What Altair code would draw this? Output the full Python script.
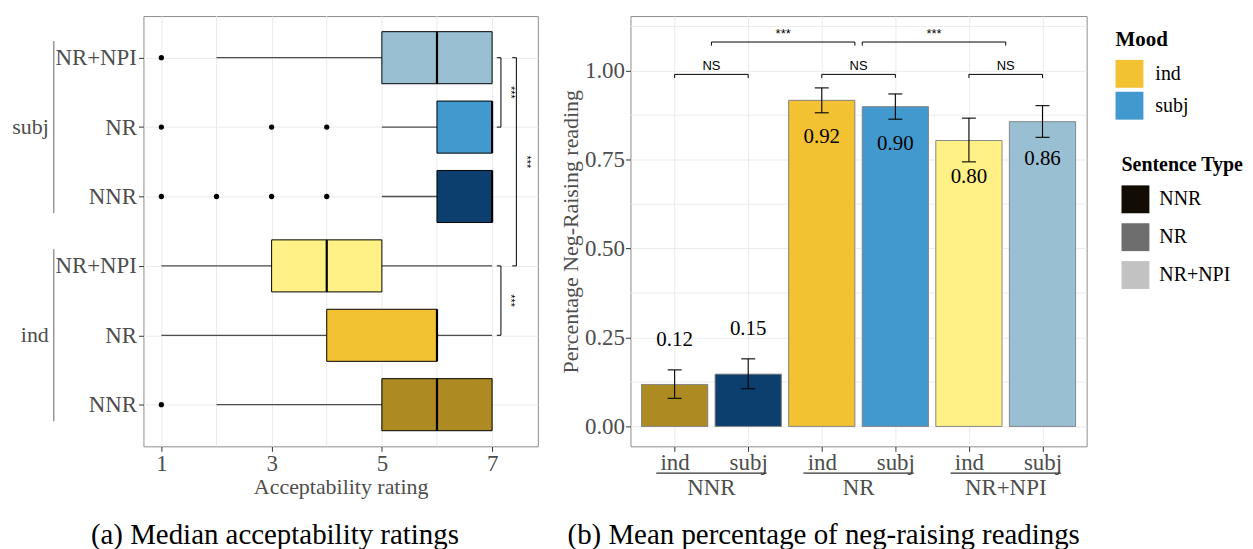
import json
import altair as alt
import pandas as pd

SERIF = "Liberation Serif"
SANS = "Liberation Sans"
GREY_TXT = "#4d4d4d"

# ---------------- panel (a): acceptability box plots ----------------
box_mood = ["ind", "ind", "ind", "subj", "subj", "subj"]
box_type = ["NNR", "NR", "NR+NPI", "NNR", "NR", "NR+NPI"]
box_row = [1, 2, 3, 4, 5, 6]
box_lower = [2, 1, 1, 5, 5, 2]
box_q1 = [5, 4, 3, 6, 6, 5]
box_median = [6, 6, 4, 7, 7, 6]
box_q3 = [7, 6, 5, 7, 7, 7]
box_upper = [7, 7, 7, 7, 7, 7]
box_colors = ["#ad8a22", "#f2c232", "#fff185", "#0c3f6e", "#4299ce", "#98bfd2"]

out_row = [1, 4, 4, 4, 4, 5, 5, 5, 6]
out_value = [1, 1, 2, 3, 4, 1, 3, 4, 1]

grp_a_name = ["ind", "subj"]
grp_a_first = [1, 4]
grp_a_last = [3, 6]

lb_top = [6, 6, 3]
lb_bottom = [5, 3, 2]
lb_x = [7.16, 7.44, 7.16]
lb_text_x = [7.33, 7.62, 7.33]
lb_label = ["***", "***", "***"]

x_ticks_a = [1, 3, 5, 7]
x_minor_a = [2, 4, 6]
caption_a = ["(a) Median acceptability ratings"]

# ---------------- panel (b): neg-raising bars ----------------
bar_type = ["NNR", "NNR", "NR", "NR", "NR+NPI", "NR+NPI"]
bar_mood = ["ind", "subj", "ind", "subj", "ind", "subj"]
bar_mean = [0.118, 0.147, 0.917, 0.899, 0.804, 0.857]
bar_lo = [0.079, 0.106, 0.882, 0.864, 0.744, 0.813]
bar_hi = [0.159, 0.190, 0.952, 0.935, 0.867, 0.902]
bar_label = ["0.12", "0.15", "0.92", "0.90", "0.80", "0.86"]
bar_colors = ["#ad8a22", "#0c3f6e", "#f2c232", "#4299ce", "#fff185", "#98bfd2"]

mood_names = ["ind", "subj"]
mood_colors = ["#f2c232", "#4299ce"]
type_names = ["NNR", "NR", "NR+NPI"]
type_colors = ["#120c04", "#6e6e6e", "#c2c2c2"]

grp_b_center = [1.5, 3.5, 5.5]

rb_x1 = [1, 3, 5, 1.5, 3.55]
rb_x2 = [2, 4, 6, 3.45, 5.5]
rb_y = [0.99, 0.99, 0.99, 1.081, 1.081]
rb_label = ["NS", "NS", "NS", "***", "***"]

y_ticks_b = [0, 0.25, 0.5, 0.75, 1.0]
y_minor_b = [0.125, 0.375, 0.625, 0.875, 1.125]
caption_b = ["(b) Mean percentage of neg-raising readings"]

# ---------------- frames ----------------
df_box = pd.DataFrame({
    "mood": box_mood, "stype": box_type, "row": box_row,
    "lower": box_lower, "q1": box_q1, "median": box_median,
    "q3": box_q3, "upper": box_upper,
})
df_box["key"] = df_box["mood"] + "|" + df_box["stype"]
df_out = pd.DataFrame({"row": out_row, "value": out_value})
df_grp_a = pd.DataFrame({"name": grp_a_name, "first": grp_a_first, "last": grp_a_last})
df_lb = pd.DataFrame({"top": lb_top, "bottom": lb_bottom, "bx": lb_x, "tx": lb_text_x, "label": lb_label})

df_bar = pd.DataFrame({
    "stype": bar_type, "mood": bar_mood, "mean": bar_mean,
    "lo": bar_lo, "hi": bar_hi, "label": bar_label,
})
df_bar["pos"] = range(1, len(df_bar) + 1)
df_bar["key"] = df_bar["stype"] + "|" + df_bar["mood"]
df_grp_b = pd.DataFrame({"name": type_names, "center": grp_b_center})
df_rb = pd.DataFrame({"x1": rb_x1, "x2": rb_x2, "y": rb_y, "label": rb_label})

# ---------------- panel (a) chart ----------------
W_A, H = 396, 432
xs_a = alt.Scale(domain=[0.675, 7.83], nice=False, zero=False)
ys_a = alt.Scale(domain=[0.4, 6.6], nice=False, zero=False)
x_axis_a = alt.Axis(values=x_ticks_a, title="Acceptability rating", grid=True,
                    labelPadding=1, titlePadding=1)
y_axis_a = alt.Axis(values=box_row, title=None, grid=True, labelPadding=2,
                    labelExpr=json.dumps(box_type) + "[datum.value - 1]")


def XA(f):
    return alt.X(f, type="quantitative", scale=xs_a, axis=x_axis_a)


def YA(f):
    return alt.Y(f, type="quantitative", scale=ys_a, axis=y_axis_a)


minor_a = alt.Chart(pd.DataFrame({"v": x_minor_a})).mark_rule(
    color="#ebebeb", strokeWidth=1).encode(x=XA("v"))

base_box = alt.Chart(df_box).transform_calculate(
    ylo="datum.row - 0.375", yhi="datum.row + 0.375")

whisk = base_box.mark_rule(color="#4d4d4d", strokeWidth=1.3).encode(
    x=XA("lower"), x2="upper", y=YA("row"))
boxes = base_box.mark_rect(stroke="black", strokeWidth=1).encode(
    x=XA("q1"), x2="q3", y=YA("ylo"), y2="yhi",
    color=alt.Color("key:N", scale=alt.Scale(domain=list(df_box["key"]), range=box_colors),
                    legend=None))
medians = base_box.mark_rule(color="black", strokeWidth=2.2).encode(
    x=XA("median"), y=YA("ylo"), y2="yhi")
outliers = alt.Chart(df_out).mark_circle(color="black", size=28, opacity=1).encode(
    x=XA("value"), y=YA("row"))

lb_base = alt.Chart(df_lb).transform_calculate(
    bx0="datum.bx - 0.075", mid="(datum.top + datum.bottom) / 2")
lb_v = lb_base.mark_rule(color="black", strokeWidth=1).encode(
    x=XA("bx"), y=YA("top"), y2="bottom")
lb_t1 = lb_base.mark_rule(color="black", strokeWidth=1).encode(
    x=XA("bx0"), x2="bx", y=YA("top"))
lb_t2 = lb_base.mark_rule(color="black", strokeWidth=1).encode(
    x=XA("bx0"), x2="bx", y=YA("bottom"))
lb_txt = lb_base.mark_text(angle=90, font=SANS, fontSize=11, color="black",
                           baseline="middle").encode(
    x=XA("tx"), y=YA("mid"), text="label")

grp_a_base = alt.Chart(df_grp_a).transform_calculate(
    mid="(datum.first + datum.last) / 2",
    g0="datum.first - 0.24", g1="datum.last + 0.24")
grp_a_txt = grp_a_base.mark_text(font=SERIF, fontSize=22, color=GREY_TXT,
                                 align="right", baseline="middle").encode(
    x=alt.value(-95), y=YA("mid"), text="name")
grp_a_line = grp_a_base.mark_rule(color="#666666", strokeWidth=1).encode(
    x=alt.value(-90), y=YA("g0"), y2="g1")

cap_a = alt.Chart(pd.DataFrame({"t": caption_a})).mark_text(
    font=SERIF, fontSize=29, color="black", align="center", baseline="alphabetic").encode(
    x=alt.value(132), y=alt.value(530), text="t")

left = alt.layer(minor_a, whisk, boxes, medians, outliers,
                 lb_v, lb_t1, lb_t2, lb_txt, grp_a_txt, grp_a_line, cap_a
                 ).properties(width=W_A, height=H)

# ---------------- panel (b) chart ----------------
W_B = 458
xs_b = alt.Scale(domain=[0.4, 6.6], nice=False, zero=False)
ys_b = alt.Scale(domain=[-0.056, 1.154], nice=False, zero=False)
x_axis_b = alt.Axis(values=list(df_bar["pos"]), title=None, grid=True, labelPadding=0,
                    labelExpr=json.dumps(bar_mood) + "[datum.value - 1]")
y_axis_b = alt.Axis(values=y_ticks_b, format=".2f", title="Percentage Neg-Raising reading",
                    grid=True, labelPadding=1, titlePadding=2)


def XB(f):
    return alt.X(f, type="quantitative", scale=xs_b, axis=x_axis_b)


def YB(f):
    return alt.Y(f, type="quantitative", scale=ys_b, axis=y_axis_b)


minor_b = alt.Chart(pd.DataFrame({"v": y_minor_b})).mark_rule(
    color="#ebebeb", strokeWidth=1).encode(y=YB("v"))

bar_base = alt.Chart(df_bar).transform_calculate(
    x0="datum.pos - 0.45", x1="datum.pos + 0.45", zero="0",
    c0="datum.pos - 0.095", c1="datum.pos + 0.095")

legend_common = dict(orient="none", symbolType="square", symbolSize=784,
                     titleFont=SERIF, titleFontWeight="bold", titleColor="black",
                     labelFont=SERIF, labelFontSize=20, labelColor="black",
                     padding=0, symbolStrokeWidth=0)

bars_mood = bar_base.mark_rect().encode(
    x=XB("x0"), x2="x1", y=YB("zero:Q"), y2="mean",
    color=alt.Color("mood:N", scale=alt.Scale(domain=mood_names, range=mood_colors),
                    legend=alt.Legend(title="Mood", legendX=487, legendY=13,
                                      titleFontSize=21, titlePadding=10, rowPadding=4,
                                      labelOffset=12, **legend_common)))
bars_type = bar_base.mark_rect().encode(
    x=XB("x0"), x2="x1", y=YB("zero:Q"), y2="mean",
    color=alt.Color("stype:N", scale=alt.Scale(domain=type_names, range=type_colors),
                    legend=alt.Legend(title="Sentence Type", legendX=493, legendY=140,
                                      titleFontSize=20, titlePadding=10, rowPadding=10,
                                      labelOffset=10, **legend_common)))
bars_main = bar_base.mark_rect(stroke="#8a8a8a", strokeWidth=1).encode(
    x=XB("x0"), x2="x1", y=YB("zero:Q"), y2="mean",
    color=alt.Color("key:N", scale=alt.Scale(domain=list(df_bar["key"]), range=bar_colors),
                    legend=None))

err_v = bar_base.mark_rule(color="black", strokeWidth=1.1).encode(
    x=XB("pos"), y=YB("lo"), y2="hi")
err_lo = bar_base.mark_rule(color="black", strokeWidth=1.1).encode(
    x=XB("c0"), x2="c1", y=YB("lo"))
err_hi = bar_base.mark_rule(color="black", strokeWidth=1.1).encode(
    x=XB("c0"), x2="c1", y=YB("hi"))

lab_hi = bar_base.transform_filter("datum.mean > 0.5").mark_text(
    font=SERIF, fontSize=21, color="black", baseline="middle", dy=37).encode(
    x=XB("pos"), y=YB("mean"), text="label")
lab_lo = bar_base.transform_filter("datum.mean <= 0.5").mark_text(
    font=SERIF, fontSize=21, color="black", baseline="middle", dy=-45).encode(
    x=XB("pos"), y=YB("mean"), text="label")

rb_base = alt.Chart(df_rb).transform_calculate(
    ydrop="datum.y - 0.01", xm="(datum.x1 + datum.x2) / 2")
rb_h = rb_base.mark_rule(color="black", strokeWidth=1).encode(
    x=XB("x1"), x2="x2", y=YB("y"))
rb_l = rb_base.mark_rule(color="black", strokeWidth=1).encode(
    x=XB("x1"), y=YB("y"), y2="ydrop")
rb_r = rb_base.mark_rule(color="black", strokeWidth=1).encode(
    x=XB("x2"), y=YB("y"), y2="ydrop")
rb_txt = rb_base.mark_text(font=SANS, fontSize=13, color="black",
                           baseline="alphabetic", dy=-4).encode(
    x=XB("xm"), y=YB("y"), text="label")

grp_b_base = alt.Chart(df_grp_b).transform_calculate(
    lo="datum.center - 0.75", hi="datum.center + 0.75")
grp_b_line = grp_b_base.mark_rule(color="#333333", strokeWidth=1.2).encode(
    x=XB("lo"), x2="hi", y=alt.value(459))
grp_b_txt = grp_b_base.mark_text(font=SERIF, fontSize=23, color=GREY_TXT,
                                 baseline="alphabetic").encode(
    x=XB("center"), y=alt.value(481), text="name")

cap_b = alt.Chart(pd.DataFrame({"t": caption_b})).mark_text(
    font=SERIF, fontSize=29, color="black", align="center", baseline="alphabetic").encode(
    x=alt.value(194), y=alt.value(530), text="t")

right = alt.layer(minor_b, bars_mood, bars_type, bars_main, err_v, err_lo, err_hi,
                  lab_hi, lab_lo, rb_h, rb_l, rb_r, rb_txt, grp_b_line, grp_b_txt, cap_b
                  ).resolve_scale(color="independent").properties(width=W_B, height=H)

chart = alt.hconcat(left, right, spacing=20).resolve_scale(color="independent").properties(
    padding={"left": 3, "top": 6, "right": 0, "bottom": 0}
).configure_view(stroke="#8c8c8c", strokeWidth=1).configure_axis(
    domain=False, tickColor="#333333", tickSize=5, tickWidth=1,
    labelFont=SERIF, labelFontSize=23, labelColor=GREY_TXT,
    titleFont=SERIF, titleFontSize=22, titleFontWeight="normal", titleColor=GREY_TXT,
    gridColor="#ebebeb", gridWidth=1,
)

chart.save("out.html", embed_options={"renderer": "svg", "actions": False})
